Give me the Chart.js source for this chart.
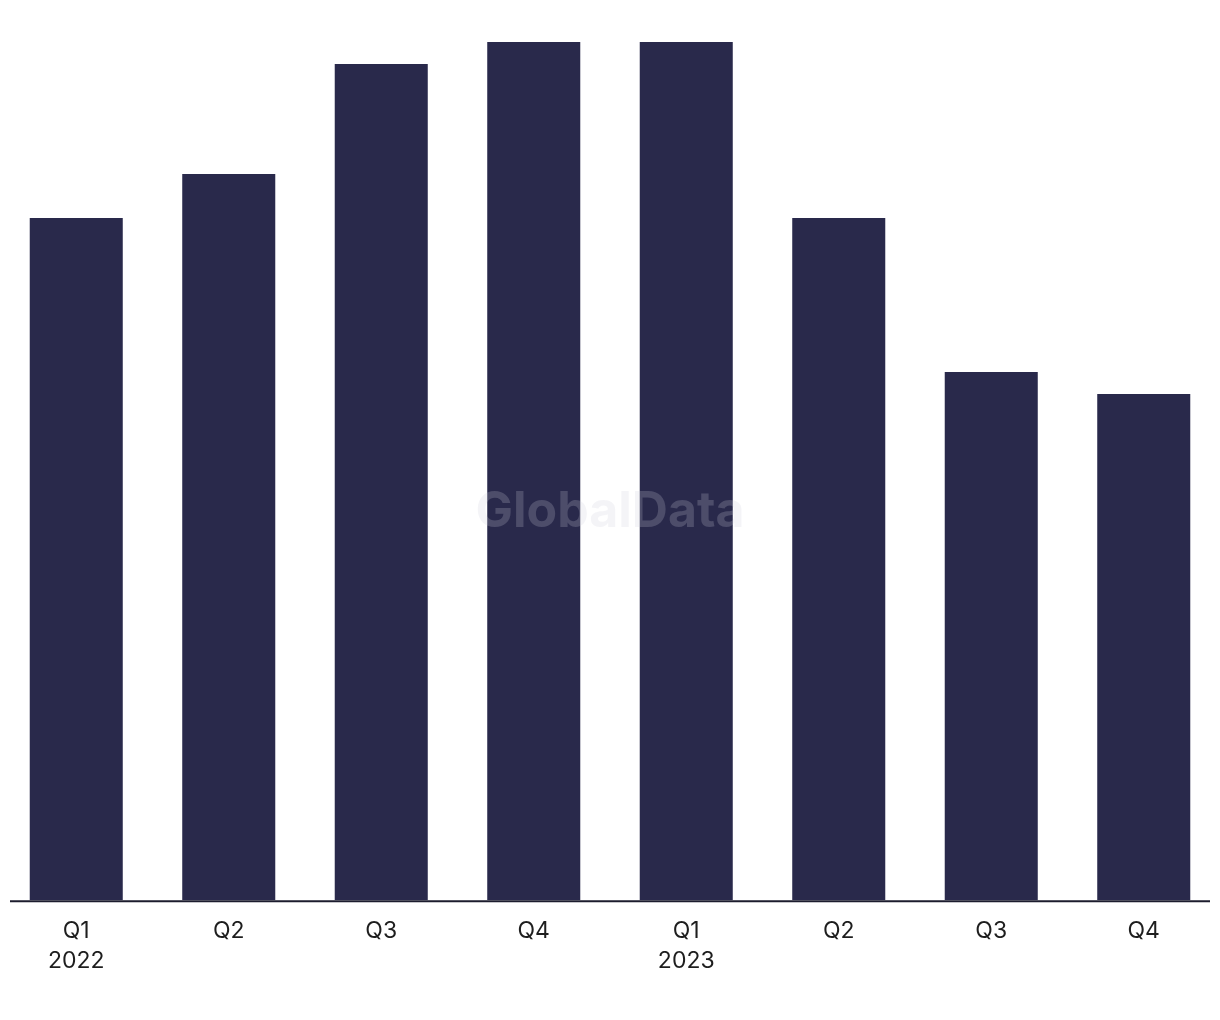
<!DOCTYPE html>
<html>
<head>
<meta charset="utf-8">
<script src="https://cdn.jsdelivr.net/npm/chart.js@4.4.1/dist/chart.umd.min.js"></script>
<style>
  html, body { margin: 0; padding: 0; background: #fff; }
  #wrap { width: 1220px; height: 1020px; }
</style>
</head>
<body>
<div id="wrap"><canvas id="c"></canvas></div>
<script>
const quarters = ['Q1', 'Q2', 'Q3', 'Q4', 'Q1', 'Q2', 'Q3', 'Q4'];
const years = ['2022', '', '', '', '2023', '', '', ''];
const values = [31, 33, 38, 39, 39, 31, 24, 23];

const BAR = '#29294b';

// baseline drawn a bit shorter than the plot, like the original
const baseline = {
  id: 'baseline',
  afterDatasetsDraw(chart) {
    const { ctx, chartArea } = chart;
    ctx.save();
    ctx.strokeStyle = '#1c1c2e';
    ctx.lineWidth = 2;
    ctx.beginPath();
    ctx.moveTo(chartArea.left + 10, chartArea.bottom + 1);
    ctx.lineTo(chartArea.right - 10, chartArea.bottom + 1);
    ctx.stroke();
    ctx.restore();
  }
};

const watermark = {
  id: 'watermark',
  afterDatasetsDraw(chart) {
    const { ctx, chartArea } = chart;
    ctx.save();
    ctx.font = 'bold 50px Inter, "Liberation Sans", sans-serif';
    ctx.fillStyle = 'rgba(205,205,218,0.22)';
    ctx.textAlign = 'center';
    ctx.textBaseline = 'middle';
    ctx.fillText('GlobalData', (chartArea.left + chartArea.right) / 2, 512);
    ctx.restore();
  }
};

new Chart(document.getElementById('c'), {
  type: 'bar',
  data: {
    labels: quarters.map((q, i) => years[i] ? [q, years[i]] : q),
    datasets: [{
      data: values,
      backgroundColor: BAR,
      borderWidth: 0,
      categoryPercentage: 1,
      barPercentage: 0.61
    }]
  },
  options: {
    responsive: true,
    maintainAspectRatio: false,
    animation: false,
    layout: { padding: { top: 42, left: 0, right: 0, bottom: 28 } },
    plugins: { legend: { display: false }, tooltip: { enabled: false } },
    scales: {
      x: {
        grid: { display: false, drawTicks: false },
        border: { display: false },
        ticks: {
          color: '#1e1e1e',
          padding: 16,
          maxRotation: 0,
          autoSkip: false,
          font: { size: 23, family: 'Inter, "Liberation Sans", sans-serif', lineHeight: 1.3 }
        }
      },
      y: { display: false, min: 0, max: 39 }
    }
  },
  plugins: [baseline, watermark]
});
</script>
</body>
</html>
